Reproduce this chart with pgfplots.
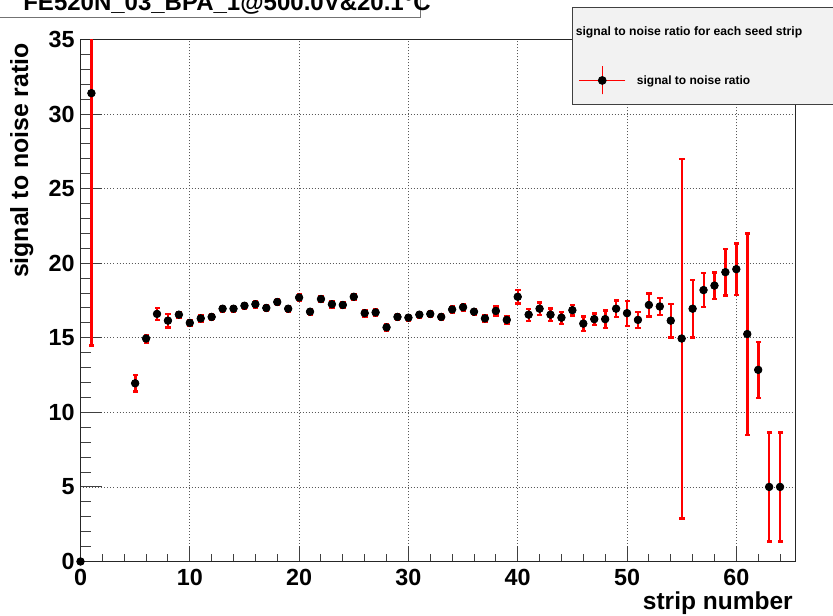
\documentclass[border=0pt]{standalone}
\usepackage{fontspec}
\setmainfont{Liberation Sans}
\usepackage{pgfplots}
\usepackage{pgfplotstable}
\pgfplotsset{compat=1.18}

% error bars: a red bar with a short cap at its far end
\pgfplotsset{
  /pgfplots/error bars/draw error bar/.code 2 args={
    \path #1 coordinate (ebA);
    \path #2 coordinate (ebB);
    \fill[red] ([xshift=-0.42pt]ebA) rectangle ([xshift=0.42pt]ebB);
    \fill[red] ([xshift=-1.3pt,yshift=-0.42pt]ebB) rectangle ([xshift=1.3pt,yshift=0.42pt]ebB);
  }
}

% strip, signal to noise ratio, uncertainty
\pgfplotstableread{
x  y      e
0  0      0
1  31.4   16.9
5  11.95  0.55
6  14.95  0.25
7  16.6   0.4
8  16.15  0.45
9  16.55  0.2
10 16.0   0.2
11 16.3   0.2
12 16.4   0.2
13 16.95  0.2
14 16.95  0.2
15 17.15  0.2
16 17.25  0.2
17 17.0   0.2
18 17.4   0.2
19 16.95  0.2
20 17.7   0.2
21 16.75  0.2
22 17.6   0.2
23 17.25  0.2
24 17.2   0.2
25 17.75  0.2
26 16.65  0.2
27 16.7   0.2
28 15.7   0.2
29 16.4   0.2
30 16.35  0.2
31 16.55  0.2
32 16.6   0.2
33 16.4   0.2
34 16.9   0.2
35 17.05  0.2
36 16.75  0.2
37 16.3   0.2
38 16.8   0.3
39 16.2   0.25
40 17.75  0.45
41 16.55  0.4
42 16.95  0.42
43 16.55  0.42
44 16.35  0.4
45 16.85  0.34
46 15.95  0.48
47 16.25  0.4
48 16.25  0.6
49 16.95  0.56
50 16.65  0.84
51 16.2   0.53
52 17.2   0.77
53 17.1   0.57
54 16.15  1.13
55 14.95  12.05
56 16.95  1.92
57 18.2   1.14
58 18.5   0.9
59 19.4   1.56
60 19.6   1.72
61 15.25  6.75
62 12.85  1.86
63 5.0    3.66
64 5.0    3.66
}\snrdata

\begin{document}
\begin{tikzpicture}
\useasboundingbox (0,0) rectangle (499.8pt,369pt);

% title box, partly above the page
\draw[fill=white, draw=black!55, line width=0.6pt] (-2pt,358.4pt) rectangle (252pt,380pt);
\node[anchor=base west, inner sep=0pt, font=\bfseries\fontsize{14.4}{16}\selectfont]
  at (13.8pt,362.8pt) {FE520N\_03\_BPA\_1@500.0V\&20.1°C};

\begin{axis}[
  at={(48.3pt,32.1pt)}, anchor=south west,
  scale only axis, width=428.9pt, height=313.2pt,
  xmin=0, xmax=65.4, ymin=0, ymax=35,
  xtick={0,10,...,60}, ytick={0,5,...,35},
  minor xtick={0,2,...,64}, minor ytick={0,1,...,35},
  tick pos=left, tick align=inside,
  major tick length=12.8pt, minor tick length=6.4pt,
  xtick style={/pgfplots/major tick length=9.4pt, /pgfplots/minor tick length=4.7pt},
  tick style={black!75, line width=0.6pt},
  axis line style={black!85, line width=0.6pt},
  grid=major,
  major grid style={black!65, line width=0.5pt, dash pattern=on 0.6pt off 1.2pt},
  /pgf/number format/assume math mode=true,
  ticklabel style={font=\bfseries\fontsize{14}{14}\selectfont, inner sep=0pt},
  xticklabel style={anchor=north, yshift=-4.5pt},
  yticklabel style={anchor=east, xshift=-3.3pt},
  xlabel={strip number}, ylabel={signal to noise ratio},
  every axis x label/.style={at={(axis description cs:1,0)}, anchor=base east,
    xshift=-1.4pt, yshift=-28.6pt, inner sep=0pt, font=\bfseries\fontsize{14.7}{15}\selectfont},
  every axis y label/.style={at={(axis description cs:-0.0734,0.9933)}, rotate=90,
    anchor=base east, inner sep=0pt, font=\bfseries\fontsize{14.9}{15}\selectfont},
  legend style={at={(0.6876,1.0617)}, anchor=north west,
    draw=black!75, line width=0.6pt, fill=black!5,
    inner xsep=3.6pt, inner ysep=4pt, column sep=6.6pt, row sep=0pt,
    nodes={inner sep=0pt, text depth=0pt, font=\bfseries\fontsize{7.2}{8}\selectfont}},
  legend cell align=left,
]
% legend header line
\addlegendimage{legend image code/.code={
  \path[draw=none, fill=none] (0pt,-14.7pt) rectangle (1pt,10.2pt);
  \node[overlay, anchor=west, inner sep=0pt, font=\bfseries\fontsize{7.3}{8}\selectfont]
    at (-2.4pt,0pt) {signal to noise ratio for each seed strip};
}}
\addlegendentry{\hspace*{140pt}}

% uncertainties
\addplot[forget plot, only marks, mark=none,
  error bars/.cd, y dir=both, y explicit]
  table[x=x, y=y, y error=e] {\snrdata};

% values
\addplot[only marks, mark=*, mark size=2.3pt, draw=black, fill=black,
  legend image code/.code={
    \path[draw=none, fill=none] (0pt,-10.2pt) rectangle (27.6pt,14.7pt);
    \draw[red, line width=0.85pt] (0pt,0pt) -- (27.6pt,0pt);
    \draw[red, line width=0.85pt] (13.8pt,-8.4pt) -- (13.8pt,8.4pt);
    \fill[black] (13.8pt,0pt) circle (2.3pt);
  }]
  table[x=x, y=y] {\snrdata};
\addlegendentry{signal to noise ratio}
\end{axis}
\end{tikzpicture}
\end{document}
